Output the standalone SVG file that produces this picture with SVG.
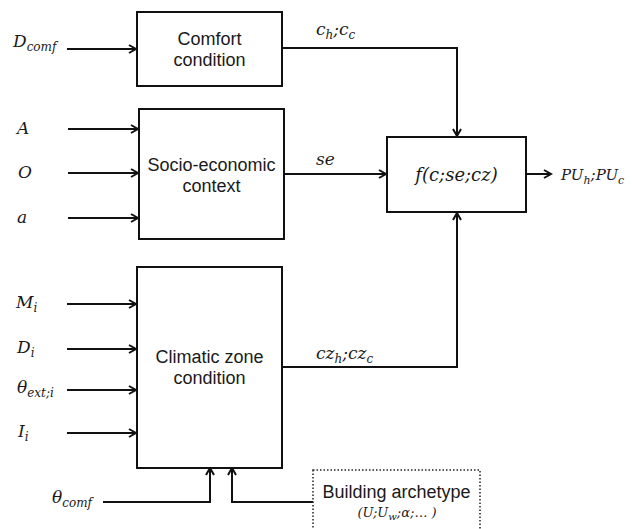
<svg xmlns="http://www.w3.org/2000/svg" width="632" height="529" viewBox="0 0 632 529">
<style>
.box{fill:#fff;stroke:#111;stroke-width:2}
.dot{fill:#fff;stroke:#222;stroke-width:1.5;stroke-dasharray:1.5 2}
.ln{fill:none;stroke:#111;stroke-width:2}
.t{font-family:"Liberation Sans",Arial,sans-serif;font-size:18px;fill:#1a1a1a;text-anchor:middle}
.m{font-family:"DejaVu Serif","Liberation Serif",serif;font-style:italic;font-size:17px;fill:#1a1a1a}
.s{font-size:12px}
</style>
<defs>
<marker id="ah" markerWidth="10" markerHeight="10" refX="8" refY="5" orient="auto" markerUnits="userSpaceOnUse">
<path d="M1,1 L8,5 L1,9" fill="none" stroke="#111" stroke-width="2"/>
</marker>
</defs>
<rect width="632" height="529" fill="#fff"/>
<g id="connectors">
<line class="ln" x1="67" y1="49" x2="136" y2="49" marker-end="url(#ah)"/>
<line class="ln" x1="68" y1="129" x2="138" y2="129" marker-end="url(#ah)"/>
<line class="ln" x1="68" y1="173" x2="138" y2="173" marker-end="url(#ah)"/>
<line class="ln" x1="68" y1="218" x2="138" y2="218" marker-end="url(#ah)"/>
<line class="ln" x1="67" y1="304" x2="136" y2="304" marker-end="url(#ah)"/>
<line class="ln" x1="67" y1="349" x2="136" y2="349" marker-end="url(#ah)"/>
<line class="ln" x1="67" y1="390" x2="136" y2="390" marker-end="url(#ah)"/>
<line class="ln" x1="67" y1="433" x2="136" y2="433" marker-end="url(#ah)"/>
<polyline class="ln" points="282,48 457,48 457,136" marker-end="url(#ah)"/>
<line class="ln" x1="284" y1="174" x2="386" y2="174" marker-end="url(#ah)"/>
<polyline class="ln" points="282,367 457,367 457,213" marker-end="url(#ah)"/>
<line class="ln" x1="526" y1="174" x2="551" y2="174" marker-end="url(#ah)"/>
<polyline class="ln" points="103,502 210,502 210,468" marker-end="url(#ah)"/>
<polyline class="ln" points="313,502 232,502 232,468" marker-end="url(#ah)"/>
</g>
<g id="comfort">
<rect class="box" x="137" y="12" width="145" height="74"/>
<text class="t" x="209.5" y="45">Comfort</text>
<text class="t" x="209.5" y="66">condition</text>
</g>
<g id="socio">
<rect class="box" x="139" y="109" width="145" height="130"/>
<text class="t" x="211.5" y="171">Socio-economic</text>
<text class="t" x="211.5" y="192">context</text>
</g>
<g id="climatic">
<rect class="box" x="137" y="267" width="145" height="201"/>
<text class="t" x="209.5" y="363">Climatic zone</text>
<text class="t" x="209.5" y="384">condition</text>
</g>
<g id="function">
<rect class="box" x="387" y="137" width="139" height="75"/>
<text class="m" x="456.5" y="181" text-anchor="middle" style="font-size:18px">f(c;se;cz)</text>
</g>
<g id="building">
<rect class="dot" x="313" y="470" width="167" height="70"/>
<text class="t" x="396.5" y="498">Building archetype</text>
<text class="m" x="397" y="517" text-anchor="middle" style="font-size:13px">(U;U<tspan dy="3" style="font-size:10px">w</tspan><tspan dy="-3">;α;… )</tspan></text>
</g>
<g id="labels">
<text class="m" x="13" y="47">D<tspan class="s" dy="4">comf</tspan></text>
<text class="m" x="17" y="134">A</text>
<text class="m" x="18" y="178">O</text>
<text class="m" x="17" y="223">a</text>
<text class="m" x="16" y="308">M<tspan class="s" dy="4">i</tspan></text>
<text class="m" x="17" y="353">D<tspan class="s" dy="4">i</tspan></text>
<text class="m" x="17" y="393">θ<tspan class="s" dy="4">ext;i</tspan></text>
<text class="m" x="18" y="437">I<tspan class="s" dy="4">i</tspan></text>
<text class="m" x="52" y="503">θ<tspan class="s" dy="4">comf</tspan></text>
<text class="m" x="316" y="35">c<tspan class="s" dy="4">h</tspan><tspan dy="-4">;c</tspan><tspan class="s" dy="4">c</tspan></text>
<text class="m" x="316" y="165">se</text>
<text class="m" x="316" y="359">cz<tspan class="s" dy="4">h</tspan><tspan dy="-4">;cz</tspan><tspan class="s" dy="4">c</tspan></text>
<text class="m" x="561" y="180" style="font-size:15px">PU<tspan style="font-size:11px" dy="4">h</tspan><tspan dy="-4">;PU</tspan><tspan style="font-size:11px" dy="4">c</tspan></text>
</g>
</svg>
